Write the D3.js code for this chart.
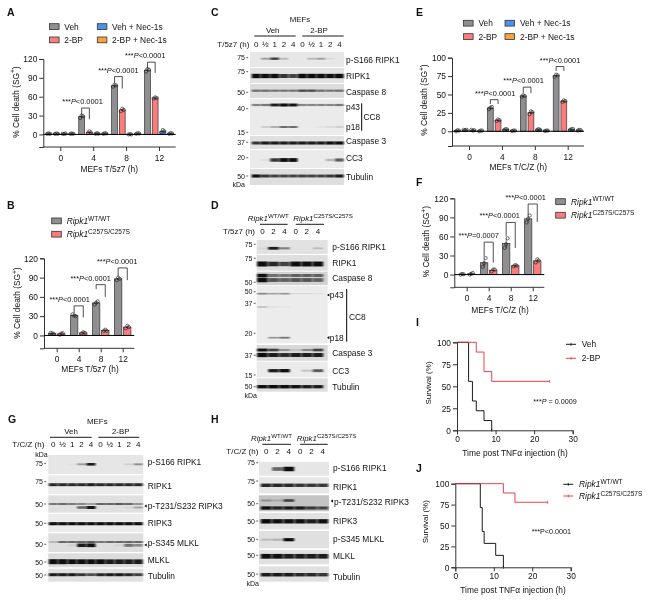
<!DOCTYPE html>
<html><head><meta charset="utf-8">
<script src="https://cdn.jsdelivr.net/npm/d3@7"></script>
<style>
html,body{margin:0;padding:0;background:#fff}
svg{display:block;filter:blur(.3px)}
text{font-family:"Liberation Sans",Arial,sans-serif;fill:#111}
</style></head><body>
<svg id="c" width="660" height="609"></svg>
<script>
// ---------- categories ----------
const hours = ["0","4","8","12"];
const lanes10 = ["0","½","1","2","4","0","½","1","2","4"];
const lanes6 = ["0","2","4","0","2","4"];
const yTicks120 = [0,30,60,90,120];
const yTicks100 = [0,25,50,75,100];
const survivalTicksY = [0,25,50,75,100];
const survivalTicksX = [0,10,20,30];

// ---------- panel A replicates (% cell death) ----------
const A_veh    = [[1,1.5,1],[26,30,29],[76,79,78],[100,104,103]];
const A_vehNec = [[1,1,1.5],[1,2,1],[0,0.5,0],[3,7,5]];
const A_bp     = [[1,1.5,1],[2,5,3],[37,41,39],[57,59,58]];
const A_bpNec  = [[1,1.5,1],[1,2,1.5],[1,2,1.5],[1,2,1.5]];
const A_brTop  = [42,92,115];
const A_brLeft = [31,81,105];
const A_brRight= [24,73,98];
const A_p = ["<0.0001","<0.0001","<0.0001"];
// ---------- panel B ----------
const B_wt = [[4,3,2.5],[33,31,30],[48,51,53],[86,90,88]];
const B_ko = [[1,3,3.5],[3,5,4],[7,9,7],[11,15,13]];
const B_brTop  = [46,79,105];
const B_brLeft = [35,72,92];
const B_brRight= [28,60,86];
const B_p = ["<0.0001","<0.0001","<0.0001"];
// ---------- panel E ----------
const E_veh    = [[0,1.5,1],[30,32,33],[47,49,48],[74,77,76]];
const E_vehNec = [[2,1,1.5],[2,3,2.5],[2,3,2],[2,3,3]];
const E_bp     = [[2,1.5,2],[14,16,15],[23,27,26],[40,42,41]];
const E_bpNec  = [[0,1,1],[0.5,1,1],[0.5,1,1],[1,2,1.5]];
const E_brTop  = [43,60,88];
const E_brLeft = [37,52,82];
const E_brRight= [37,52,82];
const E_p = ["<0.0001","<0.0001","<0.0001"];
// ---------- panel F ----------
const F_wt = [[0,1,0.5],[12,18,26],[42,48,57],[82,88,93]];
const F_ko = [[0,1,2.5],[5,8,8],[13,15,14],[19,24,22]];
const F_brTop  = [51,82,111];
const F_brLeft = [28,60,94];
const F_brRight= [19,42,83];
const F_p = ["=0.0007","<0.0001","<0.0001"];
// ---------- panel I survival ----------
const I_vehT = [0,3,4,5,7,9];
const I_vehS = [100,55.6,33.3,22.2,11.1,0];
const I_bpT  = [0,5,7,9,24];
const I_bpS  = [100,88.9,66.7,55.6,55.6];
// ---------- panel J survival ----------
const J_wtT = [0,6.5,7,7.5,10.5,12.5];
const J_wtS = [100,71.4,42.9,28.6,14.3,0];
const J_koT = [0,12.5,15.5,24];
const J_koS = [100,88.9,77.8,77.8];
// ---------- blot band intensities (0–1 per lane) ----------
const C_pS166 = [0,.3,.7,.2,0,0,.2,.3,.05,0];
const C_ripk1 = [.95,.9,.9,.75,.7,.95,.95,.95,.9,.95];
const C_casp8 = [.5,.5,.45,.45,.45,.65,.65,.5,.45,.5];
const C_p43   = [.4,.45,.85,1,.9,.4,.4,.4,.4,.45];
const C_p18   = [0,.15,.3,.55,.55,0,0,.05,.1,.15];
const C_casp3 = [.75,.85,.85,.85,.85,.85,.85,.85,.9,.95];
const C_cc3   = [0,.05,.75,1,1,0,0,0,.2,.6];
const C_tub   = [.95,.75,.7,.7,.7,.7,.7,.7,.75,.85];
const D_pS166 = [.05,.85,.4,0,0,.15];
const D_ripk1 = [1,.8,.7,.95,.95,.95];
const D_casp8a= [.9,.5,.45,.55,.55,.55];
const D_casp8b= [1,.6,.55,.6,.6,.55];
const D_p43   = [.4,.3,.35,.08,.08,.05];
const D_p18   = [0,.35,.5,0,0,0];
const D_p35   = [.25,.08,.05,0,0,0];
const D_casp3a= [.9,.7,.3,.1,.35,.7];
const D_casp3b= [1,.85,.8,.85,.85,.85];
const D_cc3   = [0,.85,.9,0,.15,.6];
const D_tub   = [.9,.95,.95,.9,.85,.85];
const G_pS166 = [0,0,.02,.3,.85,0,0,0,.1,.35];
const G_ripk1 = [.8,.8,.8,.8,.85,.8,.8,.8,.8,.8];
const G_pT231 = [.45,.5,.45,.4,.3,.55,.55,.6,.5,.35];
const G_pT231b= [0,0,0,.55,.95,0,0,0,.05,.25];
const G_ripk3 = [.9,.9,.9,.9,.9,.9,.9,.9,.9,.9];
const G_pS345 = [.2,.5,.5,.55,.6,.45,.5,.5,.55,.5];
const G_pS345b= [0,0,.05,.85,.95,0,0,.05,.5,.35];
const G_mlkl  = [1,1,.9,.9,.9,.9,.85,.85,.85,.85];
const G_tub   = [.85,.85,.85,.75,.65,.8,.85,.85,.8,.7];
const H_pS166 = [0,.55,1,0,0,0];
const H_ripk1 = [.8,.8,.8,.75,.75,.75];
const H_pT231 = [.9,.8,.85,.85,.7,.65];
const H_pT231b= [.25,.15,.65,0,0,0];
const H_ripk3 = [.95,.9,.9,.9,.85,.9];
const H_pS345 = [.15,.2,.95,0,0,0];
const H_mlkl  = [.9,.9,.85,.85,.85,.85];
const H_tub   = [.85,.85,.85,.8,.8,.75];

// ---------- palette ----------
const GRAY="#8f8f92", RED="#fb7c7c", BLUE="#4a92ea", ORANGE="#f8a23f";
const svg=d3.select("#c");
const FS=8.4;

function rich(g,x,y,parts,o={}){
  const t=g.append("text").attr("x",x).attr("y",y).attr("font-size",o.size||FS)
    .attr("text-anchor",o.anchor||"start");
  if(o.weight)t.attr("font-weight",o.weight);
  if(o.rotate)t.attr("transform",`rotate(${o.rotate} ${x} ${y})`);
  let prevSup=false;
  const sz=o.size||FS;
  parts.forEach(p=>{
    const s=typeof p==="string"?{t:p}:p;
    const ts=t.append("tspan").text(s.t);
    if(s.i)ts.attr("font-style","italic");
    if(s.sup){ts.attr("dy",-sz*.38).attr("font-size",sz*.78);prevSup=true;}
    else if(prevSup){ts.attr("dy",sz*.38);prevSup=false;}
  });
  return t;
}
function label(x,y,s,o){return rich(svg,x,y,[s],o);}
const ripkWT=[{t:"Ripk1",i:true},{t:"WT/WT",sup:true}];
const ripkKO=[{t:"Ripk1",i:true},{t:"C257S/C257S",sup:true}];

// panel letters
[["A",7,16],["B",7,209],["C",211,16],["D",211,209],["E",416,16],["F",416,186],["G",8,423],["H",211,423],["I",416,326],["J",416,472]]
 .forEach(d=>label(d[1],d[2],d[0],{size:10.5,weight:"bold"}));

function styleAxis(g){
  g.selectAll(".domain").attr("stroke","#333").attr("stroke-width",1);
  g.selectAll(".tick line").attr("stroke","#333").attr("stroke-width",1);
  g.selectAll("text").attr("font-size",FS).attr("font-family",'"Liberation Sans",Arial,sans-serif').attr("fill","#111");
}

function barPanel(p){
  const x=d3.scalePoint().domain(hours).range(p.xr);
  const y=d3.scaleLinear().domain(p.yd).range(p.yr);
  const g=svg.append("g");
  const n=p.series.length;
  const off=i=>(i-(n-1)/2)*p.step;
  p.series.forEach((s,i)=>{
    const sg=g.append("g");
    const data=s.vals.map((v,j)=>({h:hours[j],v,m:d3.mean(v),sd:d3.deviation(v)}));
    sg.selectAll("rect").data(data).join("rect")
      .attr("x",d=>x(d.h)+off(i)-p.bw/2).attr("width",p.bw)
      .attr("y",d=>Math.min(y(d.m),y(0))).attr("height",d=>Math.abs(y(0)-y(d.m)))
      .attr("fill",s.c).attr("stroke","#333").attr("stroke-width",.7);
    sg.selectAll("line.e").data(data).join("line").attr("class","e")
      .attr("x1",d=>x(d.h)+off(i)).attr("x2",d=>x(d.h)+off(i))
      .attr("y1",d=>y(d.m-d.sd)).attr("y2",d=>y(d.m+d.sd)).attr("stroke","#222").attr("stroke-width",.6);
    const pts=data.flatMap(d=>d.v.map((v,k)=>({h:d.h,v,k})));
    sg.selectAll("circle").data(pts).join("circle")
      .attr("cx",d=>x(d.h)+off(i)+(d.k-1)*1.5).attr("cy",d=>y(d.v)).attr("r",1.6)
      .attr("fill","none").attr("stroke","#222").attr("stroke-width",.65);
  });
  // axes
  const ax=g.append("g").attr("transform",`translate(${p.axX},0)`).call(d3.axisLeft(y).tickValues(p.yt).tickSize(4).tickPadding(2));
  styleAxis(ax);
  const bx=g.append("g").attr("transform",`translate(0,${p.yr[0]})`).call(d3.axisBottom(x).tickSize(4).tickPadding(4));
  bx.select(".domain").attr("d",`M${p.axX},0H${p.axR}`);
  styleAxis(bx);
  g.append("line").attr("x1",p.axX).attr("x2",p.axR).attr("y1",y(0)).attr("y2",y(0)).attr("stroke","#000").attr("stroke-width",1);
  // brackets
  const br=hours.slice(1);
  br.forEach((h,i)=>{
    const cx=x(h);
    const x1=cx+off(p.brA), x2=cx+off(p.brB);
    const path=d3.path();
    path.moveTo(x1,y(p.brLeft[i]));path.lineTo(x1,y(p.brTop[i]));path.lineTo(x2,y(p.brTop[i]));path.lineTo(x2,y(p.brRight[i]));
    g.append("path").attr("d",path.toString()).attr("fill","none").attr("stroke","#222").attr("stroke-width",.8);
    rich(g,(x1+x2)/2+p.pdx[i],y(p.brTop[i])-4,["***",{t:"P",i:true},p.pv[i]],{anchor:"middle",size:7.4});
  });
  // titles
  label(p.xt[0],p.xt[1],p.xtitle,{anchor:"middle"});
  rich(g,p.yl[0],p.yl[1],["% Cell death (SG",{t:"+",sup:true},")"],{anchor:"middle",rotate:-90});
  // legend
  p.legend.forEach(l=>{
    g.append("rect").attr("x",l.x).attr("y",l.y-3).attr("width",9.6).attr("height",5.8).attr("fill",l.c).attr("stroke","#333").attr("stroke-width",.8);
    rich(g,l.x+l.tx,l.y+2.8,l.t,{size:8.4});
  });
}

const fourLegend=(x1,x2,tx,y1,y2)=>[
 {x:x1,y:y1,c:GRAY,t:["Veh"],tx},{x:x2,y:y1,c:BLUE,t:["Veh + Nec-1s"],tx},
 {x:x1,y:y2,c:RED,t:["2-BP"],tx},{x:x2,y:y2,c:ORANGE,t:["2-BP + Nec-1s"],tx}];
const twoLegend=(x,tx,y1,y2)=>[{x,y:y1,c:GRAY,t:ripkWT,tx},{x,y:y2,c:RED,t:ripkKO,tx}];

barPanel({xr:[60.3,159],yd:[-20,120],yr:[147,59],yt:yTicks120,axX:43.3,axR:175.7,step:7.7,bw:5.8,
  series:[{vals:A_veh,c:GRAY},{vals:A_bp,c:RED},{vals:A_vehNec,c:BLUE},{vals:A_bpNec,c:ORANGE}],
  brA:0,brB:1,brTop:A_brTop,brLeft:A_brLeft,brRight:A_brRight,pv:A_p,pdx:[-3,0,-6],
  xt:[109.3,171.7],xtitle:"MEFs T/5z7 (h)",yl:[18.5,102],legend:fourLegend(49.5,97.3,14.8,26.7,40)});
barPanel({xr:[56.7,122.7],yd:[-20,120],yr:[348.3,258.3],yt:yTicks120,axX:44,axR:134.3,step:9.1,bw:7.4,
  series:[{vals:B_wt,c:GRAY},{vals:B_ko,c:RED}],
  brA:0,brB:1,brTop:B_brTop,brLeft:B_brLeft,brRight:B_brRight,pv:B_p,pdx:[-9,-10,-5.5],
  xt:[90,372.3],xtitle:"MEFs T/5z7 (h)",yl:[20,303],legend:twoLegend(51.7,15,221,234.3)});
barPanel({xr:[469,567.7],yd:[-20,100],yr:[146,57.7],yt:yTicks100,axX:452,axR:584,step:7.7,bw:5.8,
  series:[{vals:E_veh,c:GRAY},{vals:E_bp,c:RED},{vals:E_vehNec,c:BLUE},{vals:E_bpNec,c:ORANGE}],
  brA:0,brB:1,brTop:E_brTop,brLeft:E_brLeft,brRight:E_brRight,pv:E_p,pdx:[1,-3.5,0],
  xt:[518.3,170],xtitle:"MEFs T/C/Z (h)",yl:[427,100],legend:fourLegend(463.5,505,15,23.3,36.7)});
barPanel({xr:[466.7,532.7],yd:[-20,120],yr:[287.3,198.3],yt:yTicks120,axX:454.3,axR:544.3,step:9.1,bw:7.4,
  series:[{vals:F_wt,c:GRAY},{vals:F_ko,c:RED}],
  brA:0,brB:1,brTop:F_brTop,brLeft:F_brLeft,brRight:F_brRight,pv:F_p,pdx:[-10,-11,-7],
  xt:[500,312.7],xtitle:"MEFs T/C/Z (h)",yl:[429.5,241.7],legend:twoLegend(555.7,15.3,201.7,215.3)});

function survival(p){
  const x=d3.scaleLinear().domain([0,30]).range(p.xr);
  const y=d3.scaleLinear().domain([0,100]).range(p.yr);
  const g=svg.append("g");
  const line=d3.line().x(d=>x(d.t)).y(d=>y(d.s)).curve(d3.curveStepAfter);
  p.curves.forEach(c=>{
    const pts=c.t.map((t,i)=>({t,s:c.s[i]}));
    g.append("path").attr("d",line(pts)).attr("fill","none").attr("stroke",c.c).attr("stroke-width",.9);
    const last=pts[pts.length-1];
    g.append("line").attr("x1",x(last.t)).attr("x2",x(last.t)).attr("y1",y(last.s)-1.5).attr("y2",y(last.s)+1.5).attr("stroke",c.c).attr("stroke-width",.7);
  });
  styleAxis(g.append("g").attr("transform",`translate(${p.xr[0]},0)`).call(d3.axisLeft(y).tickValues(survivalTicksY).tickSize(4).tickPadding(2)));
  styleAxis(g.append("g").attr("transform",`translate(0,${p.yr[0]})`).call(d3.axisBottom(x).tickValues(survivalTicksX).tickSize(4).tickPadding(2)));
  rich(g,p.xt[0],p.xt[1],["Time post TNFα injection (h)"],{anchor:"middle"});
  rich(g,p.yl[0],p.yl[1],["Survival (%)"],{anchor:"middle",rotate:-90,size:8});
  p.curves.forEach(c=>{
    g.append("line").attr("x1",c.lx).attr("x2",c.lx+10).attr("y1",c.ly).attr("y2",c.ly).attr("stroke",c.c).attr("stroke-width",.9);
    g.append("line").attr("x1",c.lx+5).attr("x2",c.lx+5).attr("y1",c.ly-1.5).attr("y2",c.ly+1.5).attr("stroke",c.c).attr("stroke-width",.7);
    rich(g,c.lx+15.7,c.ly+2.8,c.lab,{size:8.4});
  });
  rich(g,p.pos[0],p.pos[1],p.ptext,{size:7.2});
}
survival({xr:[457,572.7],yr:[430.3,342.3],xt:[515,456],yl:[431,383],pos:[533.3,404],
  ptext:["***",{t:"P",i:true}," = 0.0009"],
  curves:[{t:I_vehT,s:I_vehS,c:"#000",lx:566,ly:344.3,lab:["Veh"]},{t:I_bpT,s:I_bpS,c:"#ee2b33",lx:566,ly:358.3,lab:["2-BP"]}]});
survival({xr:[455.3,570.7],yr:[567.3,483.7],xt:[513,592.7],yl:[428,521.7],pos:[531.7,534.3],
  ptext:["***P<0.0001"],
  curves:[{t:J_wtT,s:J_wtS,c:"#000",lx:563.3,ly:484.3,lab:ripkWT},{t:J_koT,s:J_koS,c:"#ee2b33",lx:563.3,ly:496,lab:ripkKO}]});

// ---------- blots ----------
const defs=svg.append("defs");
defs.append("filter").attr("id","bl").attr("x","-10%").attr("y","-60%").attr("width","120%").attr("height","220%")
  .append("feGaussianBlur").attr("stdDeviation","0.9 0.55");

function blot(p){
  const g=svg.append("g");
  const lane=d3.scaleBand().domain(d3.range(p.lanes.length)).range(p.lr).paddingInner(.06).paddingOuter(.03);
  p.rows.forEach(r=>{
    g.append("rect").attr("x",p.sx[0]).attr("width",p.sx[1]-p.sx[0]).attr("y",r.top).attr("height",r.bot-r.top).attr("fill",r.bg||"#e7e7e7");
    const bg=g.append("g").attr("filter","url(#bl)");
    r.bands.forEach(b=>{
      const H=(b.h||2.6)*1.25;
      bg.append("g").selectAll("rect").data(b.v).join("rect")
        .attr("x",(d,i)=>lane(i)).attr("width",lane.bandwidth())
        .attr("y",d=>b.y-H*(.55+.45*d)/2).attr("height",d=>H*(.55+.45*d))
        .attr("fill","#0c0c0c").attr("opacity",d=>Math.min(1,d*1.1));
    });
  });
  // lane labels
  p.lanes.forEach((l,i)=>label(lane(i)+lane.bandwidth()/2,p.laneY,l,{anchor:"middle",size:8}));
  label(p.unit[0],p.laneY,p.unit[1],{anchor:"end",size:8});
  // header lines
  p.hlines.forEach(h=>g.append("line").attr("x1",h[0]).attr("x2",h[1]).attr("y1",p.hy).attr("y2",p.hy).attr("stroke","#000").attr("stroke-width",.9));
  (p.heads||[]).forEach(h=>rich(svg,h[0],h[1],h[2],{anchor:h[3]||"start",size:7.9}));
  // ladder
  p.ladder.forEach(m=>{
    label(p.ladX,m[1]+2.5,m[0],{anchor:"end",size:7});
    g.append("line").attr("x1",p.ladX+1.2).attr("x2",p.ladX+3.2).attr("y1",m[1]).attr("y2",m[1]).attr("stroke","#222").attr("stroke-width",.7);
  });
  if(p.kda)label(p.kda[0],p.kda[1],"kDa",{anchor:"end",size:7});
  p.labels.forEach(l=>label(l[2]||p.labX,l[1]+2.8,l[0],{size:8.4}));
  (p.arrows||[]).forEach(a=>g.append("path").attr("d",`M${a[0]},${a[1]}l2.4,-1.6v3.2z`).attr("fill","#000"));
  (p.vlines||[]).forEach(v=>g.append("line").attr("x1",v[0]).attr("x2",v[0]).attr("y1",v[1]).attr("y2",v[2]).attr("stroke","#000").attr("stroke-width",1));
}

blot({lanes:lanes10,lr:[251.5,344],sx:[250,344],laneY:46.7,unit:[249.3,"T/5z7 (h)"],
  hy:36,hlines:[[254.3,295.7],[302.3,343.7]],
  heads:[[300,22,["MEFs"],"middle"],[272.7,33,["Veh"],"middle"],[319,33,["2-BP"],"middle"]],
  ladX:245,ladder:[["75",57.7],["75",71.7],["50",92.3],["40",108.7],["15",132.3],["37",142.3],["20",157.7],["50",176]],kda:[245,186.7],
  labX:346,labels:[["p-S166 RIPK1",60],["RIPK1",75.7],["Caspase 8",91.7],["p43",106.7],["p18",126.7],["CC8",117.3,363.5],["Caspase 3",141.3],["CC3",158.3],["Tubulin",176.7]],
  vlines:[[361.7,103.3,130.7]],
  rows:[
   {top:52,bot:67,bands:[{y:58.7,h:2.2,v:C_pS166}]},
   {top:68,bot:83,bg:"#e2e2e2",bands:[{y:76,h:3.6,v:C_ripk1}]},
   {top:84,bot:98,bg:"#dcdcdc",bands:[{y:90.7,h:2.2,v:C_casp8}]},
   {top:99,bot:135,bg:"#ebebeb",bands:[{y:105,h:2.4,v:C_p43},{y:127,h:1.8,v:C_p18}]},
   {top:136,bot:149,bg:"#e0e0e0",bands:[{y:143,h:2.6,v:C_casp3}]},
   {top:150,bot:168,bg:"#ebebeb",bands:[{y:160,h:3,v:C_cc3}]},
   {top:169,bot:185,bg:"#dedede",bands:[{y:176,h:2.6,v:C_tub}]}]});

blot({lanes:lanes6,lr:[256.8,323.5],sx:[256.7,327.7],laneY:234,unit:[255,"T/5z7 (h)"],
  hy:224.3,hlines:[[260,287.7],[295.7,324]],
  heads:[[247.7,220.7,ripkWT],[293.3,220.7,ripkKO]],
  ladX:252.5,ladder:[["75",244.3],["75",258.3],["50",282.3],["50",291.7],["37",303.3],["20",333.3],["37",355.3],["15",375],["50",386.7]],kda:[257,398.3],
  labX:332.3,labels:[["p-S166 RIPK1",247.3],["RIPK1",263.3],["Caspase 8",278.3],["p43",295,329.8],["p18",337.7,329.8],["CC8",317,349],["Caspase 3",353.3],["CC3",370.7],["Tubulin",387]],
  arrows:[[327,295],[327,337.7]],vlines:[[346.7,289,341.7]],
  rows:[
   {top:240,bot:254,bg:"#e2e2e2",bands:[{y:248.3,h:2.4,v:D_pS166}]},
   {top:255,bot:270.7,bg:"#dedede",bands:[{y:264,h:4,v:D_ripk1}]},
   {top:271.7,bot:285,bg:"#d2d2d2",bands:[{y:275.5,h:2.8,v:D_casp8a},{y:280,h:3.6,v:D_casp8b}]},
   {top:285.7,bot:343.3,bg:"#ececec",bands:[{y:293.7,h:1.8,v:D_p43},{y:307,h:1.4,v:D_p35},{y:337.7,h:1.8,v:D_p18}]},
   {top:345,bot:360.7,bg:"#d8d8d8",bands:[{y:350,h:2.4,v:D_casp3a},{y:355,h:3.4,v:D_casp3b}]},
   {top:361.7,bot:377.3,bg:"#ebebeb",bands:[{y:370.7,h:2.8,v:D_cc3}]},
   {top:378.3,bot:391.7,bg:"#dedede",bands:[{y:386.7,h:2.8,v:D_tub}]}]});

blot({lanes:lanes10,lr:[48.5,143],sx:[48.3,143.3],laneY:447.3,unit:[44.3,"T/C/Z (h)"],
  hy:437.3,hlines:[[50,91.7],[98.3,139.3]],
  heads:[[97.3,424.3,["MEFs"],"middle"],[71,434.3,["Veh"],"middle"],[120.7,434.3,["2-BP"],"middle"]],
  ladX:43,ladder:[["75",463.3],["75",481.7],["50",504],["50",523.3],["50",544.3],["50",562],["50",575]],kda:[47.7,456.7],
  labX:147.7,labels:[["p-S166 RIPK1",461.7],["RIPK1",485.7],["p-T231/S232 RIPK3",506],["RIPK3",523.3],["p-S345 MLKL",543.3],["MLKL",560],["Tubulin",575.7]],
  arrows:[[144.3,506],[144.3,545]],
  rows:[
   {top:455,bot:474,bg:"#e6e6e6",bands:[{y:464.3,h:2.2,v:G_pS166}]},
   {top:475.3,bot:494,bg:"#ebebeb",bands:[{y:484.7,h:2.6,v:G_ripk1}]},
   {top:495.3,bot:512.7,bg:"#e0e0e0",bands:[{y:504,h:2,v:G_pT231},{y:507.5,h:2.4,v:G_pT231b}]},
   {top:514,bot:532,bg:"#ebebeb",bands:[{y:523.7,h:2.6,v:G_ripk3}]},
   {top:533.3,bot:552,bg:"#dedede",bands:[{y:542,h:2,v:G_pS345},{y:545.3,h:3,v:G_pS345b}]},
   {top:553.3,bot:567.3,bg:"#dcdcdc",bands:[{y:561.7,h:4,v:G_mlkl}]},
   {top:568.7,bot:581.7,bg:"#e0e0e0",bands:[{y:574.7,h:2.6,v:G_tub}]}]});

blot({lanes:lanes6,lr:[260.5,328.5],sx:[259,329],laneY:453.7,unit:[258.3,"T/C/Z (h)"],
  hy:444.3,hlines:[[262.3,291],[300,327.7]],
  heads:[[251,441,ripkWT],[296.7,441,ripkKO]],
  ladX:255,ladder:[["75",462.7],["75",481],["50",503.7],["50",521],["50",539.3],["50",555.3],["50",574]],kda:[259,586],
  labX:333,labels:[["p-S166 RIPK1",467.7],["RIPK1",487],["p-T231/S232 RIPK3",502,334],["RIPK3",521.3],["p-S345 MLKL",538.7],["MLKL",556],["Tubulin",576.7]],
  arrows:[[330.6,501]],
  rows:[
   {top:461.7,bot:475.7,bg:"#e6e6e6",bands:[{y:469,h:3.6,v:H_pS166}]},
   {top:477.3,bot:493.3,bg:"#e6e6e6",bands:[{y:485.3,h:3,v:H_ripk1}]},
   {top:495.3,bot:511.3,bg:"#c4c4c4",bands:[{y:508,h:2.8,v:H_pT231},{y:500.5,h:2.4,v:H_pT231b}]},
   {top:513,bot:529.3,bg:"#e2e2e2",bands:[{y:521.3,h:3.6,v:H_ripk3}]},
   {top:531,bot:548.3,bg:"#e0e0e0",bands:[{y:539.7,h:2.6,v:H_pS345}]},
   {top:550,bot:564.3,bg:"#e0e0e0",bands:[{y:556.3,h:4,v:H_mlkl}]},
   {top:566.3,bot:581.7,bg:"#e0e0e0",bands:[{y:574.7,h:3,v:H_tub}]}]});
</script></body></html>
